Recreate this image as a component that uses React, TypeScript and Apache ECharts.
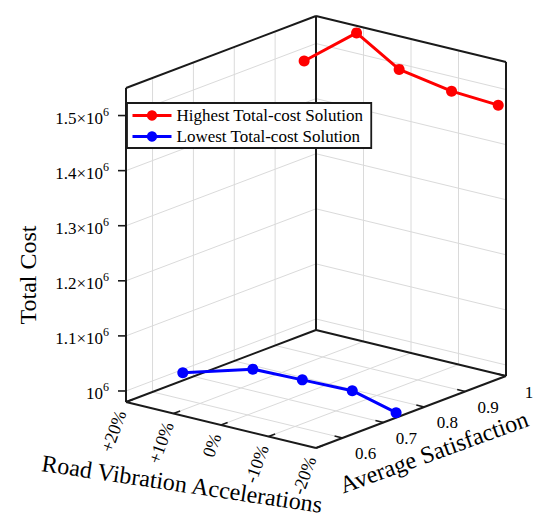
import React, { useEffect, useRef } from 'react';
import * as echarts from 'echarts';

const FONT = "'Liberation Serif', 'Times New Roman', serif";
const TEXT = '#000000';
const FRAME = '#1a1a1a';
const GRID = '#dadada';

// ---- axis limits (3D box) ----
const vibrationLimits = [20, -20];
const satisfactionLimits = [0.535, 1];
const costLimits = [0.98e6, 1.55e6];

// ---- ticks ----
const vibrationTicks = [20, 10, 0, -10, -20];
const vibrationTickLabels = ['+20%', '+10%', '0%', '-10%', '-20%'];
const satisfactionTicks = [0.6, 0.7, 0.8, 0.9, 1];
const satisfactionTickLabels = ['0.6', '0.7', '0.8', '0.9', '1'];
const costTicks = [1.0e6, 1.1e6, 1.2e6, 1.3e6, 1.4e6, 1.5e6];
const costTickMantissas = ['', '1.1×', '1.2×', '1.3×', '1.4×', '1.5×'];

// ---- series ----
const seriesNames = ['Highest Total-cost Solution', 'Lowest Total-cost Solution'];
const seriesColors = ['#ff0000', '#0000ff'];
const highVibration = [20, 10, 0, -10, -20];
const highSatisfaction = [0.971, 0.983, 0.971, 0.983, 0.981];
const highCost = [1.4765e6, 1.545e6, 1.503e6, 1.481e6, 1.477e6];
const lowVibration = [20, 10, 0, -10, -20];
const lowSatisfaction = [0.674, 0.729, 0.734, 0.74, 0.731];
const lowCost = [0.994e6, 1.006e6, 1.006e6, 1.0055e6, 0.989e6];

// ---- view (orthographic projection of the unit box onto the plane, y up) ----
const VIEW_EX = [190, -46];
const VIEW_EY = [190, 72];
const VIEW_EZ = [0, 314];
const ORIGIN_PX = [126, 402];

function frac(v: number, lim: number[]) {
  return (v - lim[0]) / (lim[1] - lim[0]);
}
function project(r: number, s: number, z: number): number[] {
  const u = frac(r, vibrationLimits);
  const v = frac(s, satisfactionLimits);
  const w = frac(z, costLimits);
  return [
    u * VIEW_EX[0] + v * VIEW_EY[0] + w * VIEW_EZ[0],
    u * VIEW_EX[1] + v * VIEW_EY[1] + w * VIEW_EZ[1],
  ];
}

function buildOption() {
  const [r0, r1] = vibrationLimits;
  const [s0, s1] = satisfactionLimits;
  const [z0, z1] = costLimits;

  const corners: number[][] = [];
  [r0, r1].forEach((r) => [s0, s1].forEach((s) => [z0, z1].forEach((z) => corners.push(project(r, s, z)))));
  const minX = Math.min(...corners.map((c) => c[0]));
  const maxX = Math.max(...corners.map((c) => c[0]));
  const minY = Math.min(...corners.map((c) => c[1]));
  const maxY = Math.max(...corners.map((c) => c[1]));
  const o = project(r0, s0, z0);

  const segs: number[][] = [];
  const seg = (a: number[], b: number[], kind: number) => segs.push([a[0], a[1], b[0], b[1], kind]);

  // grid lines
  costTicks.forEach((z) => {
    seg(project(r0, s0, z), project(r0, s1, z), 0);
    seg(project(r0, s1, z), project(r1, s1, z), 0);
  });
  satisfactionTicks.filter((s) => s < s1).forEach((s) => {
    seg(project(r0, s, z0), project(r0, s, z1), 0);
    seg(project(r0, s, z0), project(r1, s, z0), 0);
  });
  vibrationTicks.filter((r) => r !== r0 && r !== r1).forEach((r) => {
    seg(project(r, s1, z0), project(r, s1, z1), 0);
    seg(project(r, s0, z0), project(r, s1, z0), 0);
  });
  // box frame
  seg(project(r0, s0, z0), project(r0, s0, z1), 1);
  seg(project(r0, s1, z0), project(r0, s1, z1), 1);
  seg(project(r1, s1, z0), project(r1, s1, z1), 1);
  seg(project(r0, s0, z1), project(r0, s1, z1), 1);
  seg(project(r0, s1, z1), project(r1, s1, z1), 1);
  seg(project(r0, s0, z0), project(r1, s0, z0), 1);
  seg(project(r1, s0, z0), project(r1, s1, z0), 1);
  seg(project(r0, s0, z0), project(r0, s1, z0), 1);
  seg(project(r0, s1, z0), project(r1, s1, z0), 1);
  // ticks
  const dv = (s1 - s0) * 0.035;
  const du = (r1 - r0) * 0.042;
  vibrationTicks.forEach((r) => seg(project(r, s0, z0), project(r, s0 + dv, z0), 2));
  satisfactionTicks.forEach((s) => seg(project(r1, s, z0), project(r1 - du, s, z0), 2));
  costTicks.forEach((z) => {
    const p = project(r0, s0, z);
    seg(p, p, 3);
  });

  const line = (name: string, color: string, rr: number[], ss: number[], zz: number[]) => ({
    type: 'line',
    name,
    data: rr.map((r, i) => project(r, ss[i], zz[i])),
    symbol: 'circle',
    symbolSize: 11,
    showSymbol: true,
    lineStyle: { color, width: 3 },
    itemStyle: { color },
    z: 5,
    silent: true,
  });

  return {
    animation: false,
    backgroundColor: '#ffffff',
    grid: {
      left: ORIGIN_PX[0] + (minX - o[0]),
      top: ORIGIN_PX[1] - (maxY - o[1]),
      width: maxX - minX,
      height: maxY - minY,
      containLabel: false,
    },
    xAxis: { type: 'value', min: minX, max: maxX, show: false },
    yAxis: { type: 'value', min: minY, max: maxY, show: false },
    legend: {
      data: seriesNames,
      orient: 'vertical',
      left: 127,
      top: 103,
      itemWidth: 39,
      itemHeight: 13,
      itemGap: 4,
      padding: [4, 8, 3, 4],
      backgroundColor: '#ffffff',
      borderColor: FRAME,
      borderWidth: 1.8,
      borderRadius: 0,
      lineStyle: { width: 3 },
      textStyle: { fontFamily: FONT, fontSize: 17, color: TEXT },
      selectedMode: false,
      z: 10,
    },
    series: [
      {
        type: 'custom',
        coordinateSystem: 'cartesian2d',
        silent: true,
        clip: false,
        z: 1,
        data: segs,
        renderItem: (_p: any, api: any) => {
          const a = api.coord([api.value(0), api.value(1)]);
          let b = api.coord([api.value(2), api.value(3)]);
          const kind = api.value(4);
          if (kind === 3) b = [a[0] - 8, a[1]];
          const style =
            kind === 0
              ? { stroke: GRID, lineWidth: 1 }
              : kind === 1
              ? { stroke: FRAME, lineWidth: 2 }
              : { stroke: FRAME, lineWidth: 1.6 };
          return { type: 'line', shape: { x1: a[0], y1: a[1], x2: b[0], y2: b[1] }, style };
        },
      },
      line(seriesNames[0], seriesColors[0], highVibration, highSatisfaction, highCost),
      line(seriesNames[1], seriesColors[1], lowVibration, lowSatisfaction, lowCost),
    ],
  };
}

function buildTexts(toPx: (p: number[]) => number[]) {
  const [r0, r1] = vibrationLimits;
  const [s0] = satisfactionLimits;
  const [z0] = costLimits;
  const els: any[] = [];
  costTicks.forEach((z, i) => {
    const p = toPx(project(r0, s0, z));
    const m = costTickMantissas[i] + '10';
    els.push({
      type: 'text',
      x: p[0] - 23,
      y: p[1] + 3,
      style: { text: m, fontSize: 17, fontFamily: FONT, textAlign: 'right', textVerticalAlign: 'middle', fill: TEXT },
    });
    els.push({
      type: 'text',
      x: p[0] - 23,
      y: p[1] - 4,
      style: { text: '6', fontSize: 12, fontFamily: FONT, textAlign: 'left', textVerticalAlign: 'middle', fill: TEXT },
    });
  });
  vibrationTicks.forEach((r, i) => {
    const p = toPx(project(r, s0, z0));
    els.push({
      type: 'text',
      x: p[0] - 5,
      y: p[1] + 9,
      rotation: (70 * Math.PI) / 180,
      style: {
        text: vibrationTickLabels[i],
        fontSize: 18,
        fontFamily: FONT,
        textAlign: 'right',
        textVerticalAlign: 'middle',
        fill: TEXT,
      },
    });
  });
  satisfactionTicks.forEach((s, i) => {
    const p = toPx(project(r1, s, z0));
    els.push({
      type: 'text',
      x: p[0] + 23,
      y: p[1] + 16,
      style: {
        text: satisfactionTickLabels[i],
        fontSize: 17,
        fontFamily: FONT,
        textAlign: 'center',
        textVerticalAlign: 'middle',
        fill: TEXT,
      },
    });
  });
  els.push(
    {
      type: 'text',
      x: 28,
      y: 275,
      rotation: Math.PI / 2,
      style: { text: 'Total Cost', fontSize: 24, fontFamily: FONT, textAlign: 'center', textVerticalAlign: 'middle', fill: TEXT },
    },
    {
      type: 'text',
      x: 182,
      y: 484,
      rotation: (-8.5 * Math.PI) / 180,
      style: {
        text: 'Road Vibration Accelerations',
        fontSize: 24,
        fontFamily: FONT,
        textAlign: 'center',
        textVerticalAlign: 'middle',
        fill: TEXT,
      },
    },
    {
      type: 'text',
      x: 434,
      y: 452,
      rotation: (20 * Math.PI) / 180,
      style: {
        text: 'Average Satisfaction',
        fontSize: 24,
        fontFamily: FONT,
        textAlign: 'center',
        textVerticalAlign: 'middle',
        fill: TEXT,
      },
    }
  );
  return els;
}

export default function App() {
  const ref = useRef<HTMLDivElement>(null);
  useEffect(() => {
    if (!ref.current) return;
    const chart = echarts.init(ref.current, null, { renderer: 'svg' });
    chart.setOption(buildOption() as any);
    const toPx = (p: number[]) => chart.convertToPixel({ gridIndex: 0 } as any, p) as number[];
    chart.setOption({ graphic: buildTexts(toPx) } as any);
    return () => chart.dispose();
  }, []);
  return (
    <div
      ref={ref}
      style={{ position: 'absolute', left: 0, top: 0, width: 550, height: 531, background: '#ffffff' }}
    />
  );
}
